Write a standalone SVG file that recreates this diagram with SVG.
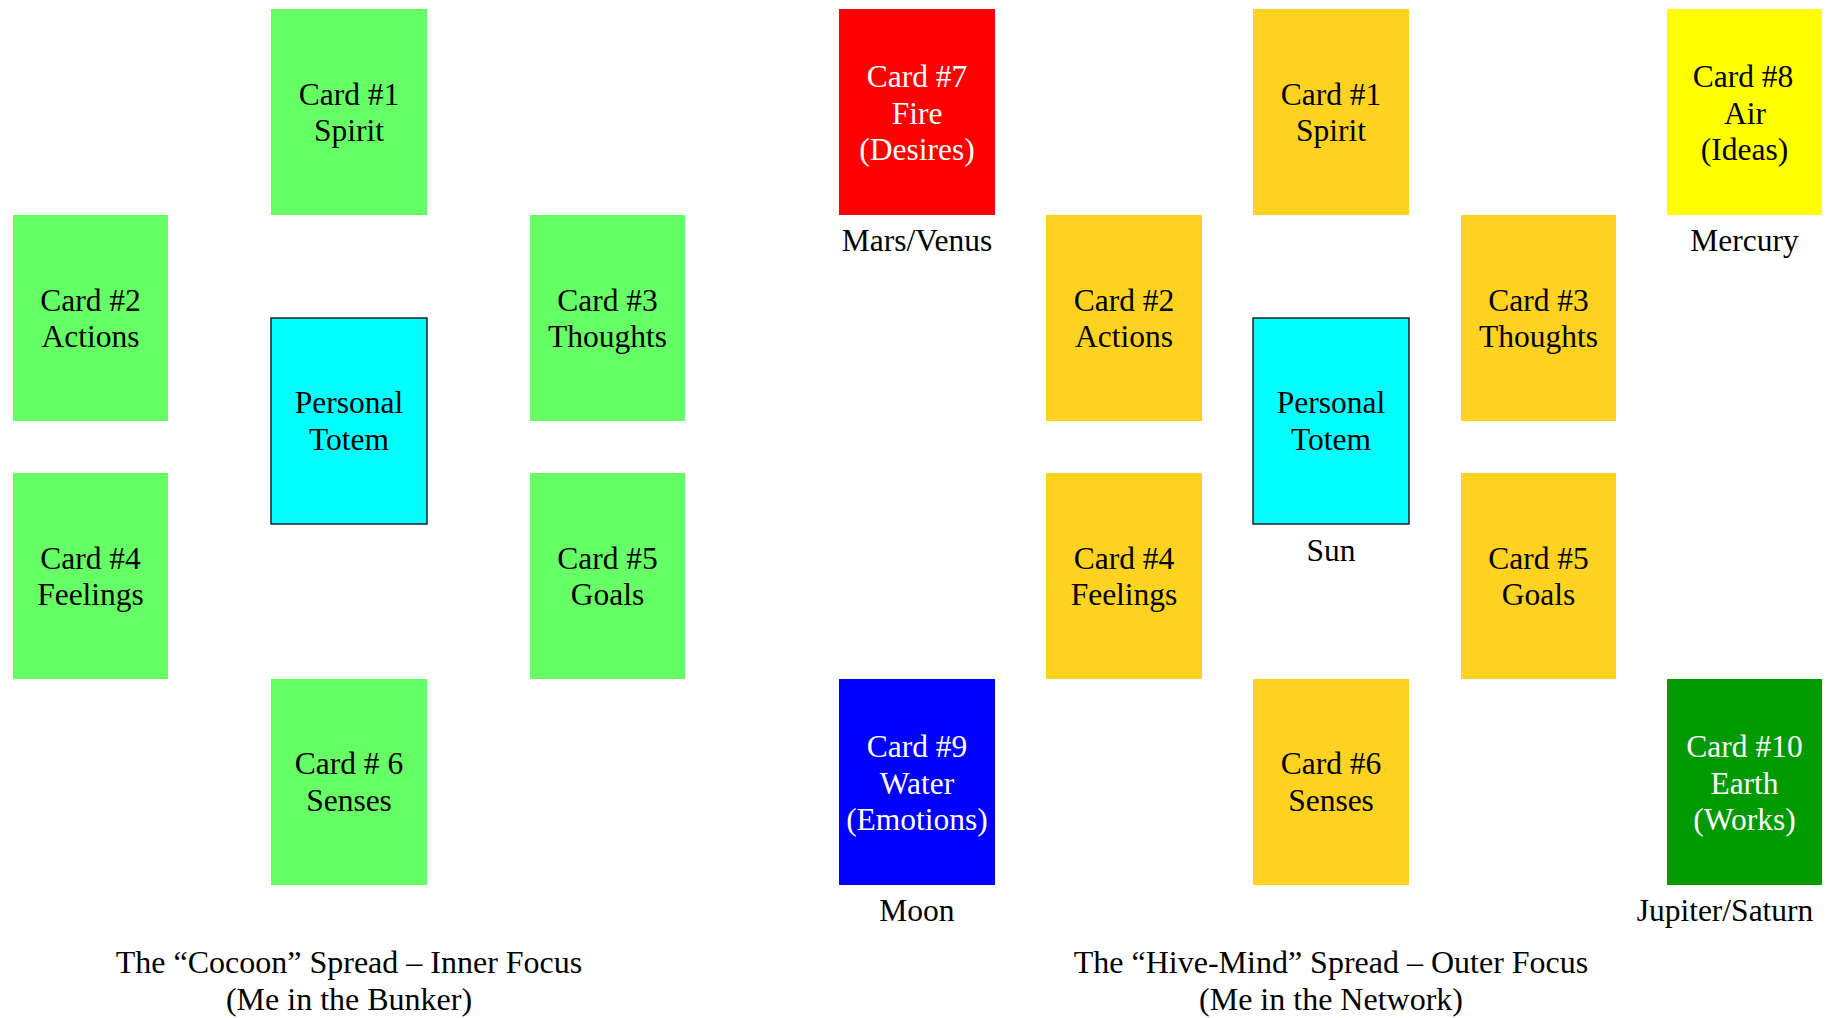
<svg xmlns="http://www.w3.org/2000/svg" width="1833" height="1018" viewBox="0 0 1833 1018">
<style>
text{font-family:"Liberation Serif","Times New Roman",serif;font-size:31.5px;text-anchor:middle;fill:#000}
.w{fill:#fff}
.cap{font-size:32px}
.g{fill:#66FF66}
.o{fill:#FED221}
.t{fill:#00FFFF;stroke:#222;stroke-width:1.5}
</style>
<rect width="1833" height="1018" fill="#fff"/>
<g id="cocoon">
<g id="l-card1"><rect class="g" x="271" y="9" width="156" height="206"/><text x="349" y="105">Card #1<tspan x="349" y="141">Spirit</tspan></text></g>
<g id="l-card2"><rect class="g" x="13" y="215" width="155" height="206"/><text x="90.5" y="311">Card #2<tspan x="90.5" y="347">Actions</tspan></text></g>
<g id="l-card3"><rect class="g" x="530" y="215" width="155" height="206"/><text x="607.5" y="311">Card #3<tspan x="607.5" y="347">Thoughts</tspan></text></g>
<g id="l-totem"><rect class="t" x="271" y="318" width="156" height="206"/><text x="349" y="412.5">Personal<tspan x="349" y="449.5">Totem</tspan></text></g>
<g id="l-card4"><rect class="g" x="13" y="473" width="155" height="206"/><text x="90.5" y="569">Card #4<tspan x="90.5" y="605">Feelings</tspan></text></g>
<g id="l-card5"><rect class="g" x="530" y="473" width="155" height="206"/><text x="607.5" y="569">Card #5<tspan x="607.5" y="605">Goals</tspan></text></g>
<g id="l-card6"><rect class="g" x="271" y="679" width="156" height="206"/><text x="349" y="774">Card # 6<tspan x="349" y="811">Senses</tspan></text></g>
<text class="cap" x="349" y="973">The “Cocoon” Spread – Inner Focus<tspan x="349" y="1010">(Me in the Bunker)</tspan></text>
</g>
<g id="hivemind">
<g id="r-card7"><rect fill="#FF0000" x="839" y="9" width="156" height="206"/><text class="w" x="917" y="87">Card #7<tspan x="917" y="123.5">Fire</tspan><tspan x="917" y="160">(Desires)</tspan></text></g>
<text x="917" y="251">Mars/Venus</text>
<g id="r-card1"><rect class="o" x="1253" y="9" width="156" height="206"/><text x="1331" y="105">Card #1<tspan x="1331" y="141">Spirit</tspan></text></g>
<g id="r-card8"><rect fill="#FFFF00" x="1667" y="9" width="155" height="206"/><text x="1743" y="87">Card #8<tspan x="1745" y="123.5">Air</tspan><tspan x="1744.5" y="160">(Ideas)</tspan></text></g>
<text x="1744.5" y="251">Mercury</text>
<g id="r-card2"><rect class="o" x="1046" y="215" width="156" height="206"/><text x="1124" y="311">Card #2<tspan x="1124" y="347">Actions</tspan></text></g>
<g id="r-card3"><rect class="o" x="1461" y="215" width="155" height="206"/><text x="1538.5" y="311">Card #3<tspan x="1538.5" y="347">Thoughts</tspan></text></g>
<g id="r-totem"><rect class="t" x="1253" y="318" width="156" height="206"/><text x="1331" y="412.5">Personal<tspan x="1331" y="449.5">Totem</tspan></text></g>
<text x="1331" y="561">Sun</text>
<g id="r-card4"><rect class="o" x="1046" y="473" width="156" height="206"/><text x="1124" y="569">Card #4<tspan x="1124" y="605">Feelings</tspan></text></g>
<g id="r-card5"><rect class="o" x="1461" y="473" width="155" height="206"/><text x="1538.5" y="569">Card #5<tspan x="1538.5" y="605">Goals</tspan></text></g>
<g id="r-card9"><rect fill="#0000FF" x="839" y="679" width="156" height="206"/><text class="w" x="917" y="757">Card #9<tspan x="917" y="793.5">Water</tspan><tspan x="917" y="830">(Emotions)</tspan></text></g>
<text x="917" y="921">Moon</text>
<g id="r-card6"><rect class="o" x="1253" y="679" width="156" height="206"/><text x="1331" y="774">Card #6<tspan x="1331" y="811">Senses</tspan></text></g>
<g id="r-card10"><rect fill="#009900" x="1667" y="679" width="155" height="206"/><text class="w" x="1744.5" y="757">Card #10<tspan x="1744.5" y="793.5">Earth</tspan><tspan x="1744.5" y="830">(Works)</tspan></text></g>
<text x="1725" y="921">Jupiter/Saturn</text>
<text class="cap" x="1331" y="973">The “Hive-Mind” Spread – Outer Focus<tspan x="1331" y="1010">(Me in the Network)</tspan></text>
</g>
<g id="connectors"/>
</svg>
